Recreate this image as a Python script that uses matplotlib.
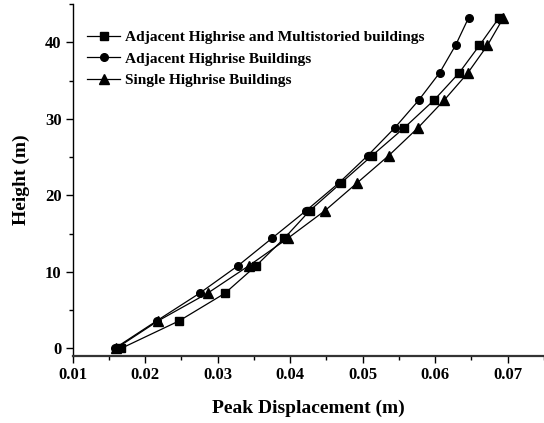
import matplotlib
matplotlib.use("Agg")
import matplotlib.pyplot as plt
from matplotlib.ticker import MultipleLocator

heights = [0, 3.6, 7.2, 10.8, 14.4, 18, 21.6, 25.2, 28.8, 32.4, 36, 39.6, 43.2]
adj_multi = [0.0167, 0.0247, 0.0310, 0.0353, 0.0392, 0.0427, 0.0470, 0.0513, 0.0557, 0.0598, 0.0633, 0.0661, 0.0688]
adj_high = [0.0158, 0.0216, 0.0275, 0.0328, 0.0375, 0.0422, 0.0467, 0.0507, 0.0544, 0.0577, 0.0606, 0.0628, 0.0646]
single = [0.0160, 0.0218, 0.0286, 0.0343, 0.0397, 0.0448, 0.0492, 0.0536, 0.0576, 0.0612, 0.0645, 0.0672, 0.0694]
labels = ["Adjacent Highrise and Multistoried buildings",
          "Adjacent Highrise Buildings",
          "Single Highrise Buildings"]

plt.rcParams['font.family'] = ['Liberation Serif', 'DejaVu Serif']
plt.rcParams['font.weight'] = 'bold'

fig = plt.figure(figsize=(5.44, 4.23), dpi=100)
ax = fig.add_axes([0.1336, 0.1584, 0.8664, 0.8321])

ax.plot(adj_multi, heights, '-s', color='black', lw=0.9, ms=5.5, label=labels[0])
ax.plot(adj_high, heights, '-o', color='black', lw=0.9, ms=5.5, label=labels[1])
ax.plot(single, heights, '-^', color='black', lw=0.9, ms=6.5, label=labels[2])

ax.set_xlim(0.01, 0.075)
ax.set_ylim(-1, 45)
ax.xaxis.set_minor_locator(MultipleLocator(0.005))
ax.yaxis.set_major_locator(MultipleLocator(10))
ax.yaxis.set_minor_locator(MultipleLocator(5))
ax.set_xticks([0.01, 0.02, 0.03, 0.04, 0.05, 0.06, 0.07])
ax.set_xticklabels(['0.01', '0.02', '0.03', '0.04', '0.05', '0.06', '0.07'])

for s in ['top', 'right']:
    ax.spines[s].set_visible(False)
ax.spines['left'].set_linewidth(1.0)
ax.spines['bottom'].set_linewidth(1.6)
ax.spines['bottom'].set_color('#333333')

ax.tick_params(axis='both', which='major', direction='out', length=5, width=1, labelsize=12, pad=3)
ax.tick_params(axis='both', which='minor', direction='out', length=3, width=1)
for lab in ax.get_xticklabels() + ax.get_yticklabels():
    lab.set_fontweight('bold')

ax.set_xlabel('Peak Displacement (m)', fontsize=14, fontweight='bold', labelpad=12)
ax.set_ylabel('Height (m)', fontsize=14, fontweight='bold', labelpad=11)

leg = ax.legend(loc='upper left', bbox_to_anchor=(0.0, 0.965), frameon=False,
                prop={'family': 'Liberation Serif', 'weight': 'bold', 'size': 11.1},
                handlelength=2.2, handletextpad=0.3, labelspacing=0.5, borderaxespad=0.5)

fig.savefig('out.png', dpi=100)
